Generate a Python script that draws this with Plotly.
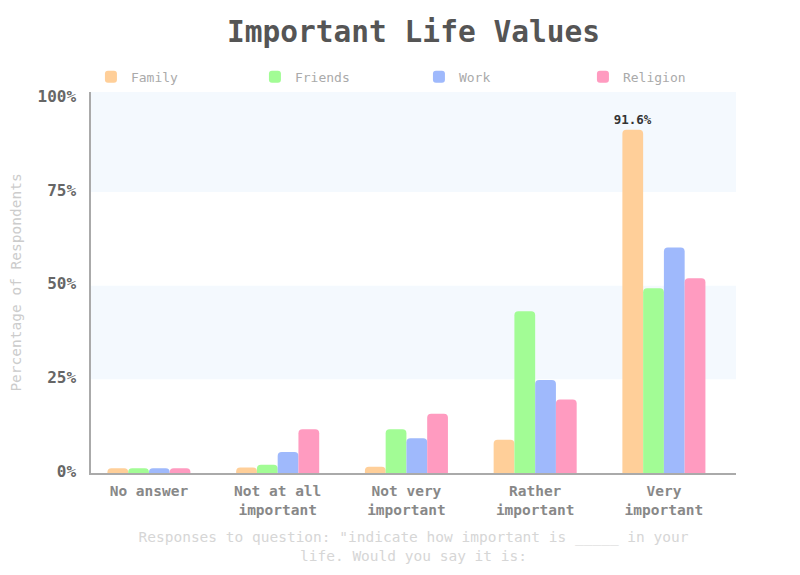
import plotly.graph_objects as go

categories = ["No answer", "Not at all<br>important", "Not very<br>important",
              "Rather<br>important", "Very<br>important"]
family = [1.3, 1.5, 1.7, 8.9, 91.6]
friends = [1.3, 2.2, 11.7, 43.2, 49.3]
work = [1.3, 5.6, 9.3, 24.8, 60.2]
religion = [1.3, 11.7, 15.8, 19.6, 52.0]
series_names = ["Family", "Friends", "Work", "Religion"]
colors = ["#ffcf99", "#a2fc95", "#9fb9fc", "#ff9bc0"]
y_ticks = [0, 25, 50, 75, 100]
y_tick_labels = ["0%", "25%", "50%", "75%", "100%"]

MONO = "DejaVu Sans Mono"
all_series = [family, friends, work, religion]
overall_max = max(max(s) for s in all_series)

fig = go.Figure()
for name, vals, col in zip(series_names, all_series, colors):
    texts = [f"{v}%" if v == overall_max else "" for v in vals]
    fig.add_trace(go.Bar(
        x=categories, y=vals, name=name,
        marker=dict(color=col, line=dict(width=0), cornerradius=4),
        text=texts, textposition="outside", cliponaxis=False, constraintext="none",
        textfont=dict(family=MONO, size=12.5, color="#333333", weight="bold"),
        hovertemplate="%{y}%<extra>" + name + "</extra>",
    ))

y_top = 101.7
for lo, hi in [(75, y_top), (25, 50)]:
    fig.add_shape(type="rect", xref="paper", yref="y", x0=0, x1=1, y0=lo, y1=hi,
                  fillcolor="#f4f9fe", line=dict(width=0), layer="below")

fig.update_layout(
    width=800, height=575,
    margin=dict(l=83, r=72, t=84, b=110),
    paper_bgcolor="white", plot_bgcolor="white",
    font=dict(family=MONO),
    title=dict(text="<b>Important Life Values</b>", x=0.5, xref="paper", xanchor="center",
               y=1 - 23.7 / 575, yref="container", yanchor="middle",
               font=dict(family=MONO, size=29.5, color="#555555")),
    barmode="group", bargap=0.355, bargroupgap=0,
    showlegend=True,
    legend=dict(orientation="h", x=-0.0001, xanchor="left", y=1.04, yanchor="middle",
                entrywidth=119, entrywidthmode="pixels",
                font=dict(family=MONO, size=13, color="#aaaaaa"),
                bgcolor="rgba(0,0,0,0)"),
    xaxis=dict(
        range=[-0.45, 4.56], showgrid=False, zeroline=False, automargin=False,
        showline=True, linecolor="#aaaaaa", linewidth=1.5, ticks="",
        ticklabelstandoff=4,
        tickfont=dict(family=MONO, size=14.5, color="#888888", weight="bold"),
        title=dict(text="Responses to question: \"indicate how important is _____ in your<br>life. Would you say it is:",
                   font=dict(family=MONO, size=14.5, color="#d6d6d6"), standoff=15),
    ),
    yaxis=dict(
        range=[0, y_top], tickvals=y_ticks, ticktext=y_tick_labels,
        showgrid=False, zeroline=False, automargin=False,
        showline=True, linecolor="#aaaaaa", linewidth=1.5, ticks="",
        ticklabelstandoff=10, ticklabelshift=-2,
        tickfont=dict(family=MONO, size=16, color="#666666", weight="bold"),
        title=dict(text="Percentage of Respondents",
                   font=dict(family=MONO, size=14.5, color="#cccccc"), standoff=14),
    ),
)

fig.write_html("out.html")
